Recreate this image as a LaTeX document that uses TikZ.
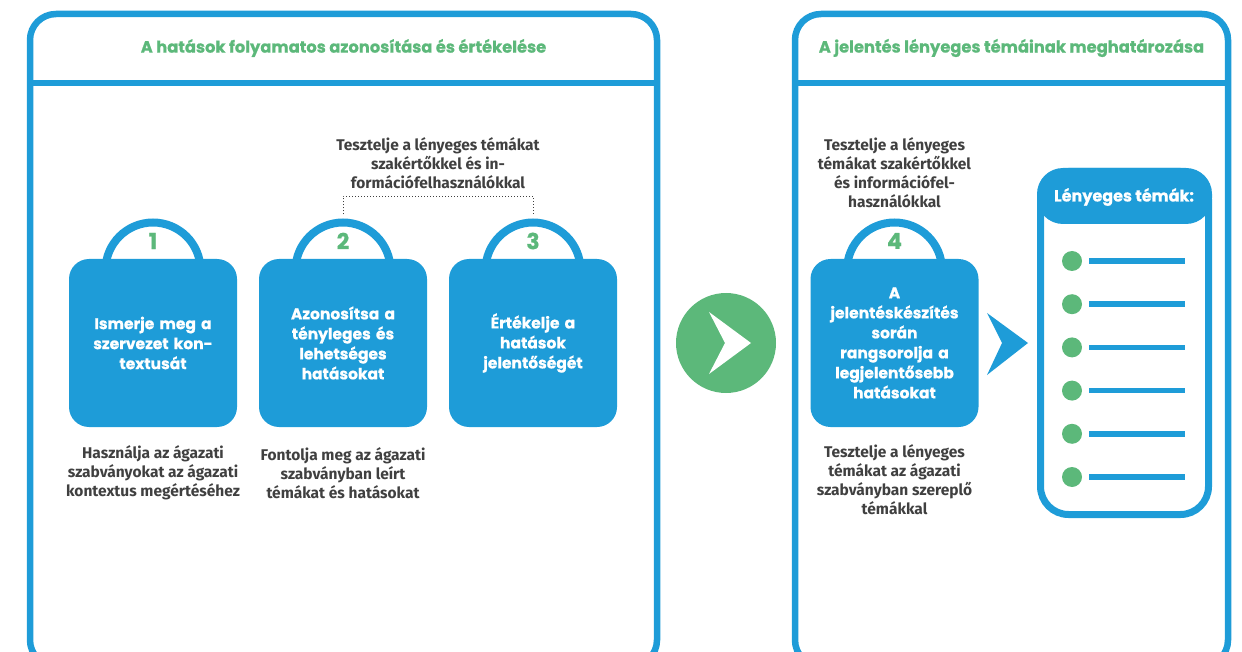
\documentclass[tikz,border=0pt]{standalone}
\usepackage{fontspec}
\setmainfont{Poppins}
\newfontfamily\heavy{Poppins}[UprightFont=*-Bold, FakeBold=0.7]
\newfontfamily\graytxt{Fira Sans}
\usetikzlibrary{calc}
\definecolor{myblue}{HTML}{1E9CD8}
\definecolor{mygreen}{HTML}{5CB87A}
\definecolor{mygray}{HTML}{404040}
\begin{document}
\begin{tikzpicture}[x=1pt,y=-1pt,
 frame/.style={draw=myblue, line width=6.5pt, rounded corners=26pt},
 divider/.style={draw=myblue, line width=6.5pt},
 titletext/.style={text=mygreen, font=\heavy\fontsize{16.3}{18}\selectfont},
 handle/.style={circle, draw=myblue, fill=white, line width=8pt, minimum size=95pt, inner sep=0pt},
 stepbox/.style={fill=myblue, rounded corners=20pt, minimum width=168pt, minimum height=168pt, text width=164pt, align=center, text=white, font=\heavy\fontsize{15.5}{20}\selectfont, inner sep=0pt},
 stepnum/.style={text=mygreen, font=\heavy\fontsize{22}{22}\selectfont},
 note/.style={text=mygray, align=center, font=\graytxt\fontsize{15.5}{19}\selectfont\bfseries},
 bullet/.style={circle, fill=mygreen, minimum size=20pt, inner sep=0pt},
 bar/.style={draw=myblue, line width=5.5pt},
]
\useasboundingbox (0,0) rectangle (1242,652);
\begin{scope}
\clip (0,0) rectangle (1242,652);
% panels
\draw[frame] (30,14) rectangle (657,666);
\draw[divider] (30,83) -- (657,83);
\draw[frame] (795,14) rectangle (1228,666);
\draw[divider] (795,83) -- (1228,83);
\end{scope}
\node[titletext] (t1) at (343.5,48) {A hatások folyamatos azonosítása és értékelése};
\node[titletext] (t2) at (1011.5,48) {A jelentés lényeges témáinak meghatározása};

% top note and dotted bracket
\node[note] (n0) at (438,163) {Tesztelje a lényeges témákat\\szakértőkkel és in-\\formációfelhasználókkal};

% handles
\node[handle] (h1) at (153,270) {};
\node[handle] (h2) at (343,270) {};
\node[handle] (h3) at (533,270) {};
\node[handle] (h4) at (894.5,270) {};
\draw[mygray, dotted, line width=1pt] (h2.north) ++(0,-4) -- ++(0,-18) -| ($(h3.north)+(0,-4)$);

% boxes
\node[stepbox] (b1) at (153,343) {Ismerje meg a\\szervezet kon-\\textusát};
\node[stepbox] (b2) at (343,343) {Azonosítsa a\\tényleges és\\lehetséges\\hatásokat};
\node[stepbox] (b3) at (533,343) {Értékelje a\\hatások\\jelentőségét};
\node[stepbox] (b4) at (894.5,343) {A\\jelentéskészítés\\során\\rangsorolja a\\legjelentősebb\\hatásokat};

\node[stepnum] (s1) at (153,241) {1};
\node[stepnum] (s2) at (343,241) {2};
\node[stepnum] (s3) at (533,241) {3};
\node[stepnum] (s4) at (894.5,241) {4};

% notes
\node[note] (n1) at (153,473) {Használja az ágazati\\szabványokat az ágazati\\kontextus megértéséhez};
\node[note] (n2) at (343,473) {Fontolja meg az ágazati\\szabványban leírt\\témákat és hatásokat};
\node[note] (n3) at (894.5,172.5) {Tesztelje a lényeges\\témákat szakértőkkel\\és információfel-\\használókkal};
\node[note] (n4) at (894.5,479.5) {Tesztelje a lényeges\\témákat az ágazati\\szabványban szereplő\\témákkal};

% green go circle
\node[circle, fill=mygreen, minimum size=100pt, inner sep=0pt] (go) at (726,343) {};
\fill[white] ($(go)+(-17,-31)$) -- ($(go)+(25,0)$) -- ($(go)+(-17,31)$) -- ($(go)+(-1,0)$) -- cycle;

% blue chevron
\coordinate (chev) at (1002,343);
\fill[myblue] ($(chev)+(-15,-30)$) -- ($(chev)+(26,0)$) -- ($(chev)+(-15,32)$) -- (chev) -- cycle;

% list box
\fill[myblue, rounded corners=26pt] (1037,168) rectangle (1212,224);
\draw[myblue, line width=7pt, rounded corners=28pt] (1040.5,171.5) rectangle (1208.5,514.5);
\node[text=white, font=\heavy\fontsize{16}{18}\selectfont] (lh) at (1124,197) {Lényeges témák:};
\foreach \i in {0,...,5}{
  \node[bullet] (d\i) at (1072,{261+43.2*\i}) {};
  \draw[bar] (1089,{261+43.2*\i}) -- (1185,{261+43.2*\i});
}
\end{tikzpicture}
\end{document}
